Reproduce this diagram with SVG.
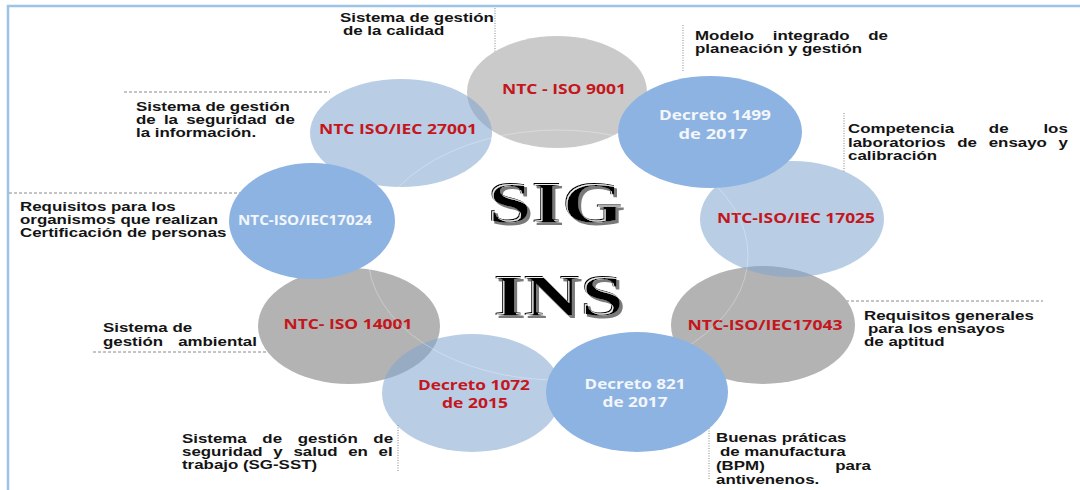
<svg xmlns="http://www.w3.org/2000/svg" width="1080" height="490" viewBox="0 0 1080 490">
<style>
.ann{font-family:"Liberation Sans",Arial,sans-serif;font-weight:bold;font-size:13px;fill:#141414}
.ct{font-family:"Open Sans","Liberation Sans",sans-serif;font-weight:bold;font-size:14px;text-anchor:middle}
.red{fill:#c4161c}
.wht{fill:#f3f6fb}
.grey1{fill:#cacaca}
.grey2{fill:#b3b3b3}
.lb{fill:#7fa4d0;fill-opacity:0.55}
.blue{fill:#8db3e2}
.dash{stroke:#8a8a8a;stroke-width:1;stroke-dasharray:3 2;fill:none}
.dot{stroke:#9a9a9a;stroke-width:1.2;stroke-dasharray:1 1.5;fill:none}
.big{font-family:"Liberation Serif","DejaVu Serif",serif;font-weight:bold;font-size:60px;text-anchor:middle;fill:#000000;filter:url(#eng)}
</style>
<defs>
<filter id="eng" x="-10%" y="-20%" width="130%" height="150%">
<feOffset in="SourceAlpha" dx="1" dy="1" result="a1"/>
<feOffset in="SourceAlpha" dx="2" dy="2" result="a2"/>
<feComposite in="a1" in2="a2" operator="out" result="band"/>
<feComposite in="band" in2="SourceAlpha" operator="in" result="band2"/>
<feFlood flood-color="#ffffff" flood-opacity="0.85"/>
<feComposite in2="band2" operator="in" result="white"/>
<feOffset in="SourceAlpha" dx="2.5" dy="2.5" result="a3"/>
<feFlood flood-color="#7a7a7a"/>
<feComposite in2="a3" operator="in" result="shadow"/>
<feMerge><feMergeNode in="shadow"/><feMergeNode in="SourceGraphic"/><feMergeNode in="white"/></feMerge>
</filter>
</defs>
<rect width="1080" height="490" fill="#ffffff"/>
<path d="M8,490 V6 H1080" stroke="#9dc3e6" stroke-width="2.5" fill="none"/>

<g id="connectors">
<line class="dot" x1="495" y1="8" x2="495" y2="52"/>
<line class="dot" x1="683" y1="25" x2="683" y2="72"/>
<line class="dot" x1="844" y1="113" x2="844" y2="173"/>
<line class="dash" x1="124" y1="92" x2="330" y2="92"/>
<line class="dash" x1="9" y1="193" x2="240" y2="193"/>
<line class="dash" x1="93" y1="352" x2="272" y2="352"/>
<line class="dot" x1="398" y1="425" x2="398" y2="472"/>
<line class="dash" x1="846" y1="301" x2="1043" y2="301"/>
<line class="dot" x1="709" y1="428" x2="709" y2="480"/>
</g>

<g id="n9001">
<ellipse class="grey1" cx="557" cy="92" rx="90" ry="56"/>
<text class="ct red" x="564" y="94" textLength="124" lengthAdjust="spacingAndGlyphs">NTC - ISO 9001</text>
<g transform="translate(340,0) scale(1.3,1)">
<text class="ann" x="0" y="22">Sistema de gestión</text>
<text class="ann" x="2.3" y="35">de la calidad</text>
</g>
</g>

<g id="n17043">
<ellipse class="grey2" cx="763" cy="325" rx="92" ry="59"/>
<text class="ct red" x="765" y="330" textLength="155" lengthAdjust="spacingAndGlyphs">NTC-ISO/IEC17043</text>
<g transform="translate(864,0) scale(1.3,1)">
<text class="ann" x="0" y="320">Requisitos generales</text>
<text class="ann" x="3" y="333">para los ensayos</text>
<text class="ann" x="0" y="346">de aptitud</text>
</g>
</g>

<g id="n14001">
<ellipse class="grey2" cx="349" cy="326" rx="91" ry="58"/>
<text class="ct red" x="348" y="329" textLength="129" lengthAdjust="spacingAndGlyphs">NTC- ISO 14001</text>
<g transform="translate(103,0) scale(1.3,1)">
<text class="ann" x="0" y="332">Sistema de</text>
<text class="ann" x="0" y="346" word-spacing="8">gestión ambiental</text>
</g>
</g>

<g id="n27001">
<ellipse class="lb" cx="401" cy="133" rx="91" ry="54"/>
<text class="ct red" x="398" y="134" textLength="158" lengthAdjust="spacingAndGlyphs">NTC ISO/IEC 27001</text>
<g transform="translate(136,0) scale(1.3,1)">
<text class="ann" x="0" y="111">Sistema de gestión</text>
<text class="ann" x="0" y="124" word-spacing="2.7">de la seguridad de</text>
<text class="ann" x="0" y="137">la información.</text>
</g>
</g>

<g id="n17025">
<ellipse class="lb" cx="792" cy="219" rx="92" ry="58"/>
<text class="ct red" x="796" y="223" textLength="158" lengthAdjust="spacingAndGlyphs">NTC-ISO/IEC 17025</text>
<g transform="translate(848,0) scale(1.3,1)">
<text class="ann" x="0" y="133" word-spacing="23.2">Competencia de los</text>
<text class="ann" x="0" y="147" word-spacing="5.4">laboratorios de ensayo y</text>
<text class="ann" x="0" y="160">calibración</text>
</g>
</g>

<g id="n1072">
<ellipse class="lb" cx="472" cy="393" rx="90" ry="59"/>
<text class="ct red" x="474" y="390" textLength="112" lengthAdjust="spacingAndGlyphs">Decreto 1072</text>
<text class="ct red" x="475" y="408" textLength="66" lengthAdjust="spacingAndGlyphs">de 2015</text>
<g transform="translate(182,0) scale(1.3,1)">
<text class="ann" x="0" y="443" word-spacing="8.4">Sistema de gestión de</text>
<text class="ann" x="0" y="456" word-spacing="4.6">seguridad y salud en el</text>
<text class="ann" x="0" y="469">trabajo (SG-SST)</text>
</g>
</g>

<ellipse id="ring" cx="558" cy="255" rx="190" ry="125" fill="none" stroke="#ffffff" stroke-opacity="0.3" stroke-width="1"/>

<g id="n1499">
<ellipse class="blue" cx="710" cy="132" rx="92" ry="56"/>
<text class="ct wht" x="715" y="120" textLength="112" lengthAdjust="spacingAndGlyphs">Decreto 1499</text>
<text class="ct wht" x="713" y="139" textLength="69" lengthAdjust="spacingAndGlyphs">de 2017</text>
<g transform="translate(695,0) scale(1.3,1)">
<text class="ann" x="0" y="40" word-spacing="10.7">Modelo integrado de</text>
<text class="ann" x="0" y="53">planeación y gestión</text>
</g>
</g>

<g id="n17024">
<ellipse class="blue" cx="312" cy="221" rx="83" ry="58"/>
<text class="ct wht" x="305" y="225" textLength="134" lengthAdjust="spacingAndGlyphs">NTC-ISO/IEC17024</text>
<g transform="translate(20,0) scale(1.3,1)">
<text class="ann" x="0" y="211">Requisitos para los</text>
<text class="ann" x="0" y="224">organismos que realizan</text>
<text class="ann" x="0" y="237">Certificación de personas</text>
</g>
</g>

<g id="n821">
<ellipse class="blue" cx="637" cy="392" rx="91" ry="60"/>
<text class="ct wht" x="635" y="389" textLength="101" lengthAdjust="spacingAndGlyphs">Decreto 821</text>
<text class="ct wht" x="635" y="407" textLength="65" lengthAdjust="spacingAndGlyphs">de 2017</text>
<g transform="translate(716,0) scale(1.3,1)">
<text class="ann" x="0" y="442">Buenas práticas</text>
<text class="ann" x="3" y="456">de manufactura</text>
<text class="ann" x="0" y="470" word-spacing="50.6">(BPM) para</text>
<text class="ann" x="0" y="484">antivenenos.</text>
</g>
</g>

<g id="title">
<text class="big" x="555" y="222" textLength="136" lengthAdjust="spacingAndGlyphs">SIG</text>
<text class="big" x="558" y="315" textLength="130" lengthAdjust="spacingAndGlyphs">INS</text>
</g>
</svg>
